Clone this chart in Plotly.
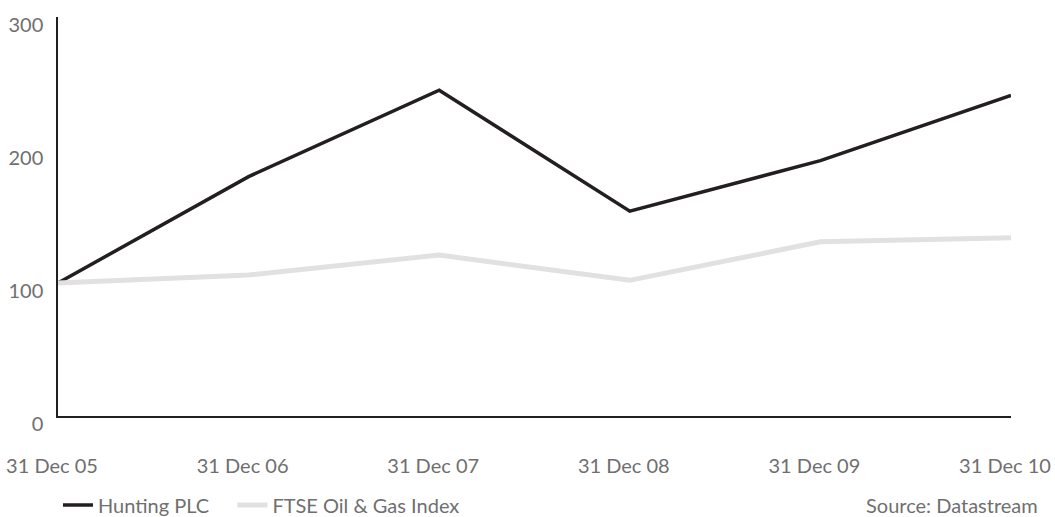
import plotly.graph_objects as go

dates = ["31 Dec 05", "31 Dec 06", "31 Dec 07", "31 Dec 08", "31 Dec 09", "31 Dec 10"]
hunting = [100, 180, 245, 154, 192, 241]
ftse = [100, 106, 121, 102, 131, 134]
y_ticks = [0, 100, 200, 300]

xpos = list(range(len(dates)))
font = "Lato, 'Open Sans', sans-serif"
grey = "#6f6f6f"

fig = go.Figure()
fig.add_trace(go.Scatter(x=xpos, y=hunting, mode="lines", name="Hunting PLC",
                         line=dict(color="#231f20", width=3.5), legend="legend"))
fig.add_trace(go.Scatter(x=xpos, y=ftse, mode="lines", name="FTSE Oil & Gas Index",
                         line=dict(color="#e1e1e1", width=5), legend="legend2"))

leg_common = dict(orientation="h", xanchor="left", y=-0.223, yanchor="middle",
                  font=dict(size=20, color=grey), itemwidth=30,
                  bgcolor="rgba(0,0,0,0)")

fig.update_layout(
    width=1055, height=517,
    margin=dict(l=58, r=44, t=17, b=101, autoexpand=False),
    paper_bgcolor="white", plot_bgcolor="white",
    font=dict(family=font, size=20, color=grey),
    showlegend=True,
    legend=dict(x=0.0, **leg_common),
    legend2=dict(x=0.183, **leg_common),
    xaxis=dict(range=[0, 5], tickvals=xpos, ticktext=dates, showgrid=False,
               zeroline=False, showline=True, linecolor="#231f20", linewidth=1.5,
               ticks="", ticklabelstandoff=31, ticklabeloverflow="allow",
               ticklabelshift=-6),
    yaxis=dict(range=[0, 300], tickvals=y_ticks, showgrid=False, zeroline=False,
               showline=True, linecolor="#231f20", linewidth=1.5, ticks="",
               ticklabelstandoff=9, ticklabelshift=8),
    annotations=[dict(text="Source: Datastream", xref="paper", yref="paper",
                      x=1, y=0, xanchor="right", yanchor="middle", xshift=29, yshift=-89,
                      showarrow=False, font=dict(size=20, color=grey))],
)

fig.write_html("out.html")
